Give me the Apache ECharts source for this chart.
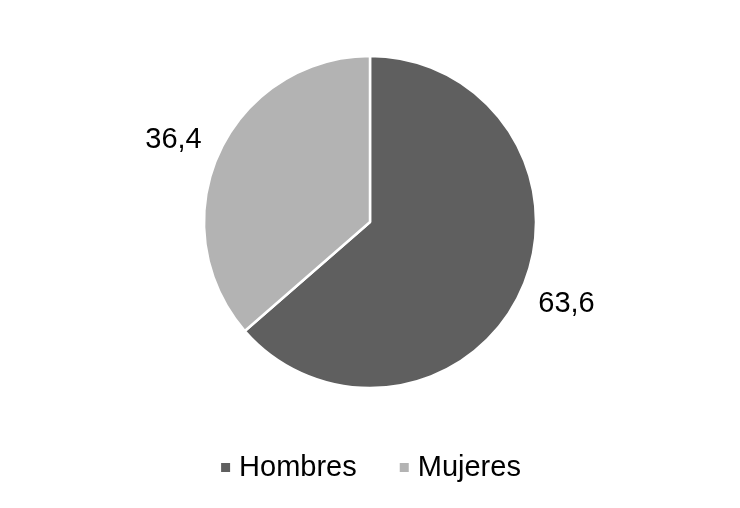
<!DOCTYPE html>
<html>
<head>
<meta charset="utf-8">
<script src="https://cdn.jsdelivr.net/npm/echarts@6/dist/echarts.min.js"></script>
<style>
html,body{margin:0;padding:0;background:#fff;}
#c{width:740px;height:508px;}
</style>
</head>
<body>
<div id="c"></div>
<script>
const categories = ['Hombres', 'Mujeres'];
const values = [63.6, 36.4];
const colors = ['#5f5f5f', '#b3b3b3'];

const chart = echarts.init(document.getElementById('c'), null, {renderer: 'canvas'});
const fontFamily = '"Liberation Sans", Arial, sans-serif';
chart.setOption({
  animation: false,
  backgroundColor: '#ffffff',
  color: colors,
  legend: {
    bottom: 21,
    left: 'center',
    icon: 'rect',
    itemWidth: 11,
    itemHeight: 11,
    itemGap: 41,
    textStyle: {fontSize: 29, color: '#000', fontFamily: fontFamily, padding: [0, 0, 0, 3]},
    data: categories
  },
  series: [{
    type: 'pie',
    center: [370, 222],
    radius: 166,
    startAngle: 90,
    clockwise: true,
    itemStyle: {borderColor: '#ffffff', borderWidth: 2.5},
    label: {
      show: true,
      position: 'outside',
      fontSize: 29,
      color: '#000',
      fontFamily: fontFamily,
      distanceToLabelLine: -11,
      formatter: p => String(p.value).replace('.', ',')
    },
    labelLine: {show: false, length: 31, length2: 0},
    emphasis: {disabled: true},
    data: categories.map((c, i) => ({name: c, value: values[i]}))
  }]
});
</script>
</body>
</html>
